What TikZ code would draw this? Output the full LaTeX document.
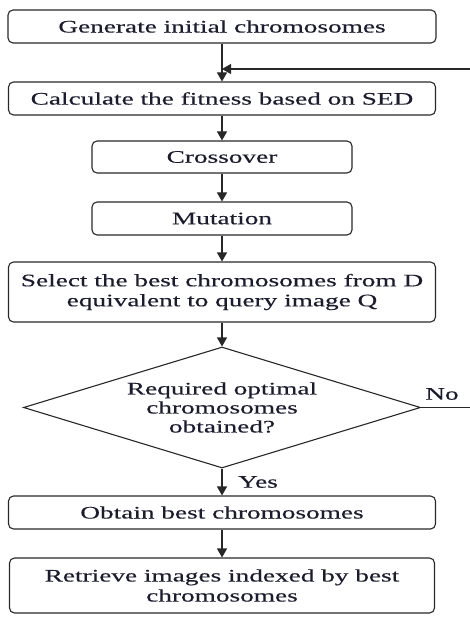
\documentclass[tikz,border=0pt]{standalone}
\usepackage{fontspec}
\setmainfont{Liberation Serif}[FakeStretch=1.55,FakeBold=0.3]
\usetikzlibrary{shapes.geometric,arrows.meta}
\definecolor{linec}{RGB}{40,40,40}
\definecolor{txt}{RGB}{28,28,48}
\begin{document}
\begin{tikzpicture}[x=1pt,y=-1pt,
  box/.style={draw=linec, fill=white, rounded corners=5pt, line width=1.1pt,
    minimum height=33pt, inner sep=0pt, align=center,
    font=\fontsize{17.6}{20}\selectfont, text=txt},
  dia/.style={draw=linec, fill=white, shape=diamond, aspect=3.28, line width=1.1pt,
    minimum width=397pt, minimum height=121pt, inner sep=0pt, align=center,
    font=\fontsize{17.6}{19}\selectfont, text=txt},
  lbl/.style={inner sep=0pt, font=\fontsize{17.6}{20}\selectfont, text=txt},
  arr/.style={-{Triangle[length=9pt,width=10pt]}, line width=1.1pt, draw=linec},
  plain/.style={line width=1.1pt, draw=linec}]
\fill[white] (0,0) rectangle (470,617);
\useasboundingbox (0,0) rectangle (470,617);

\node[box, minimum width=428pt] (b1) at (222,26.5) {Generate initial chromosomes};
\node[box, minimum width=427pt] (b2) at (222,98.5) {Calculate the fitness based on SED};
\node[box, minimum width=260pt, minimum height=32pt] (b3) at (222,157) {Crossover};
\node[box, minimum width=260pt] (b4) at (222,218.5) {Mutation};
\node[box, minimum width=427pt, minimum height=60pt] (b5) at (222,292) {Select the best chromosomes from D\\equivalent to query image Q};
\node[dia] (d) at (222,407.5) {Required optimal\\chromosomes\\obtained?};
\node[box, minimum width=427pt] (b6) at (222,512.5) {Obtain best chromosomes};
\node[box, minimum width=425pt, minimum height=55pt] (b7) at (222,585.5) {Retrieve images indexed by best\\chromosomes};

\node[lbl] (yes) at (258,482) {Yes};
\node[lbl] (no) at (442,394) {No};

\coordinate (fb) at (470,69);
\coordinate (noend) at (470,407.5);

\draw[arr] (b1) -- (b2);
\draw[arr] (fb) -- (fb -| b1.south);
\draw[arr] (b2) -- (b3);
\draw[arr] (b3) -- (b4);
\draw[arr] (b4) -- (b5);
\draw[arr] (b5) -- (d);
\draw[arr] (d) -- (b6);
\draw[plain] (d.east) -- (noend);
\draw[arr] (b6) -- (b7);
\end{tikzpicture}
\end{document}
